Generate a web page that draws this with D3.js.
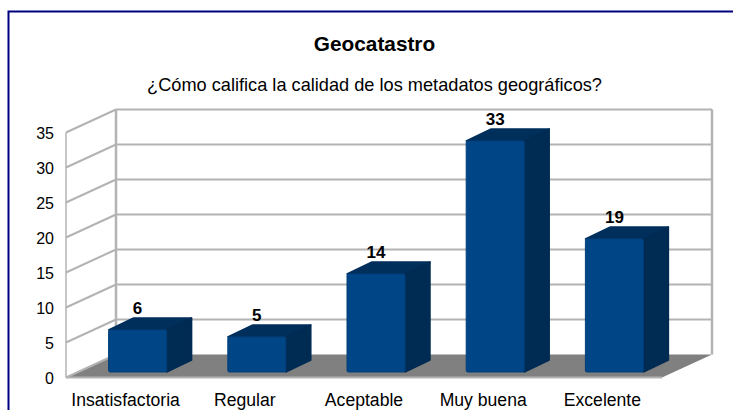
<!DOCTYPE html>
<html>
<head>
<meta charset="utf-8">
<script src="https://cdn.jsdelivr.net/npm/d3@7"></script>
<style>
  html, body { margin: 0; padding: 0; background: #fff; overflow: hidden; }
  text { font-family: "Liberation Sans", Arial, sans-serif; fill: #000; }
</style>
</head>
<body>
<div id="chart"></div>
<script>
var categories = ["Insatisfactoria", "Regular", "Aceptable", "Muy buena", "Excelente"];
var values = [6, 5, 14, 33, 19];
var yTicks = [0, 5, 10, 15, 20, 25, 30, 35];
var titleText = "Geocatastro";
var subtitleText = "¿Cómo califica la calidad de los metadatos geográficos?";

var svg = d3.select("#chart").append("svg")
  .attr("width", 733)
  .attr("height", 410);

// outer frame, runs off the right and bottom of the picture
svg.append("rect")
  .attr("x", 8.5).attr("y", 11.5)
  .attr("width", 760).attr("height", 430)
  .attr("fill", "#fff")
  .attr("stroke", "#000080")
  .attr("stroke-width", 2);

svg.append("text").attr("x", 374.5).attr("y", 51)
  .attr("text-anchor", "middle")
  .attr("font-size", 20.8).attr("font-weight", "bold")
  .text(titleText);

svg.append("text").attr("x", 374.5).attr("y", 91)
  .attr("text-anchor", "middle")
  .attr("font-size", 18.2)
  .text(subtitleText);

// scales on the front plane, depth is a fixed oblique offset
var xScale = d3.scaleBand().domain(categories).range([66, 662]);
var yScale = d3.scaleLinear().domain([0, 35]).range([377.5, 132.5]);
var depth = {x: 50, y: -23};
var barDepth = {x: 25, y: -12};
var barOffset = {x: 12, y: -5.5};
var barWidth = 58;

var grey = "#b3b3b3";
var y0 = yScale(0), y35 = yScale(35);
var xL = xScale.range()[0], xR = xScale.range()[1];

// floor
svg.append("polygon")
  .attr("fill", "#808080")
  .attr("points", [[xL, y0], [xR, y0], [xR + depth.x, y0 + depth.y], [xL + depth.x, y0 + depth.y]].join(" "));
svg.append("line")
  .attr("x1", xL).attr("x2", xR).attr("y1", y0).attr("y2", y0)
  .attr("stroke", grey).attr("stroke-width", 2);

// walls
svg.append("line")
  .attr("x1", xL).attr("x2", xL).attr("y1", y0).attr("y2", y35)
  .attr("stroke", grey).attr("stroke-width", 1.5);
svg.append("line")
  .attr("x1", xL + depth.x).attr("x2", xL + depth.x).attr("y1", y0 + depth.y).attr("y2", y35 + depth.y)
  .attr("stroke", grey).attr("stroke-width", 2.5);
svg.append("line")
  .attr("x1", xR + depth.x).attr("x2", xR + depth.x).attr("y1", y0 + depth.y).attr("y2", y35 + depth.y)
  .attr("stroke", grey).attr("stroke-width", 2.5);

// gridlines: side wall then back wall
var grid = svg.append("g").selectAll("g").data(yTicks).enter().append("g");
grid.append("line")
  .attr("x1", xL).attr("x2", xL + depth.x)
  .attr("y1", function(d) { return yScale(d); })
  .attr("y2", function(d) { return yScale(d) + depth.y; })
  .attr("stroke", grey).attr("stroke-width", 2);
grid.filter(function(d) { return d > 0; }).append("line")
  .attr("x1", xL + depth.x).attr("x2", xR + depth.x)
  .attr("y1", function(d) { return yScale(d) + depth.y; })
  .attr("y2", function(d) { return yScale(d) + depth.y; })
  .attr("stroke", grey).attr("stroke-width", 2);

// y axis labels
svg.append("g").selectAll("text").data(yTicks).enter().append("text")
  .attr("x", 54)
  .attr("y", function(d) { return yScale(d) + 6.5; })
  .attr("text-anchor", "end")
  .attr("font-size", 16)
  .text(function(d) { return d; });

// x axis labels
svg.append("g").selectAll("text").data(categories).enter().append("text")
  .attr("x", function(d) { return xScale(d) + xScale.bandwidth() / 2; })
  .attr("y", 406)
  .attr("text-anchor", "middle")
  .attr("font-size", 17.6)
  .text(function(d) { return d; });

// bars
var bars = svg.append("g").selectAll("g").data(values).enter().append("g")
  .attr("transform", function(d, i) {
    var left = xScale(categories[i]) + xScale.bandwidth() / 2 - barWidth / 2 + barOffset.x;
    return "translate(" + left + "," + (y0 + barOffset.y) + ")";
  });

function barHeight(d) { return y0 - yScale(d); }

// top face
bars.append("path")
  .attr("fill", "#002f5c")
  .attr("stroke", "#002f5c").attr("stroke-linejoin", "round").attr("stroke-width", 1.5)
  .attr("d", function(d) {
    var h = barHeight(d);
    return d3.line()([[0, -h], [barWidth, -h], [barWidth + barDepth.x, -h + barDepth.y], [barDepth.x, -h + barDepth.y]]) + "Z";
  });
// side face
bars.append("path")
  .attr("fill", "#002b53")
  .attr("stroke", "#002b53").attr("stroke-linejoin", "round").attr("stroke-width", 1.5)
  .attr("d", function(d) {
    var h = barHeight(d);
    return d3.line()([[barWidth, 0], [barWidth, -h], [barWidth + barDepth.x, -h + barDepth.y], [barWidth + barDepth.x, barDepth.y]]) + "Z";
  });
// front face
bars.append("rect")
  .attr("x", 0)
  .attr("y", function(d) { return -barHeight(d); })
  .attr("width", barWidth)
  .attr("height", barHeight)
  .attr("rx", 1.5)
  .attr("fill", "#004586")
  .attr("stroke", "#003f7a").attr("stroke-width", 1);

// data labels
bars.append("text")
  .attr("x", barWidth / 2)
  .attr("y", function(d) { return -barHeight(d) + barDepth.y - 4; })
  .attr("text-anchor", "middle")
  .attr("font-size", 17).attr("font-weight", "bold")
  .text(function(d) { return d; });
</script>
</body>
</html>
